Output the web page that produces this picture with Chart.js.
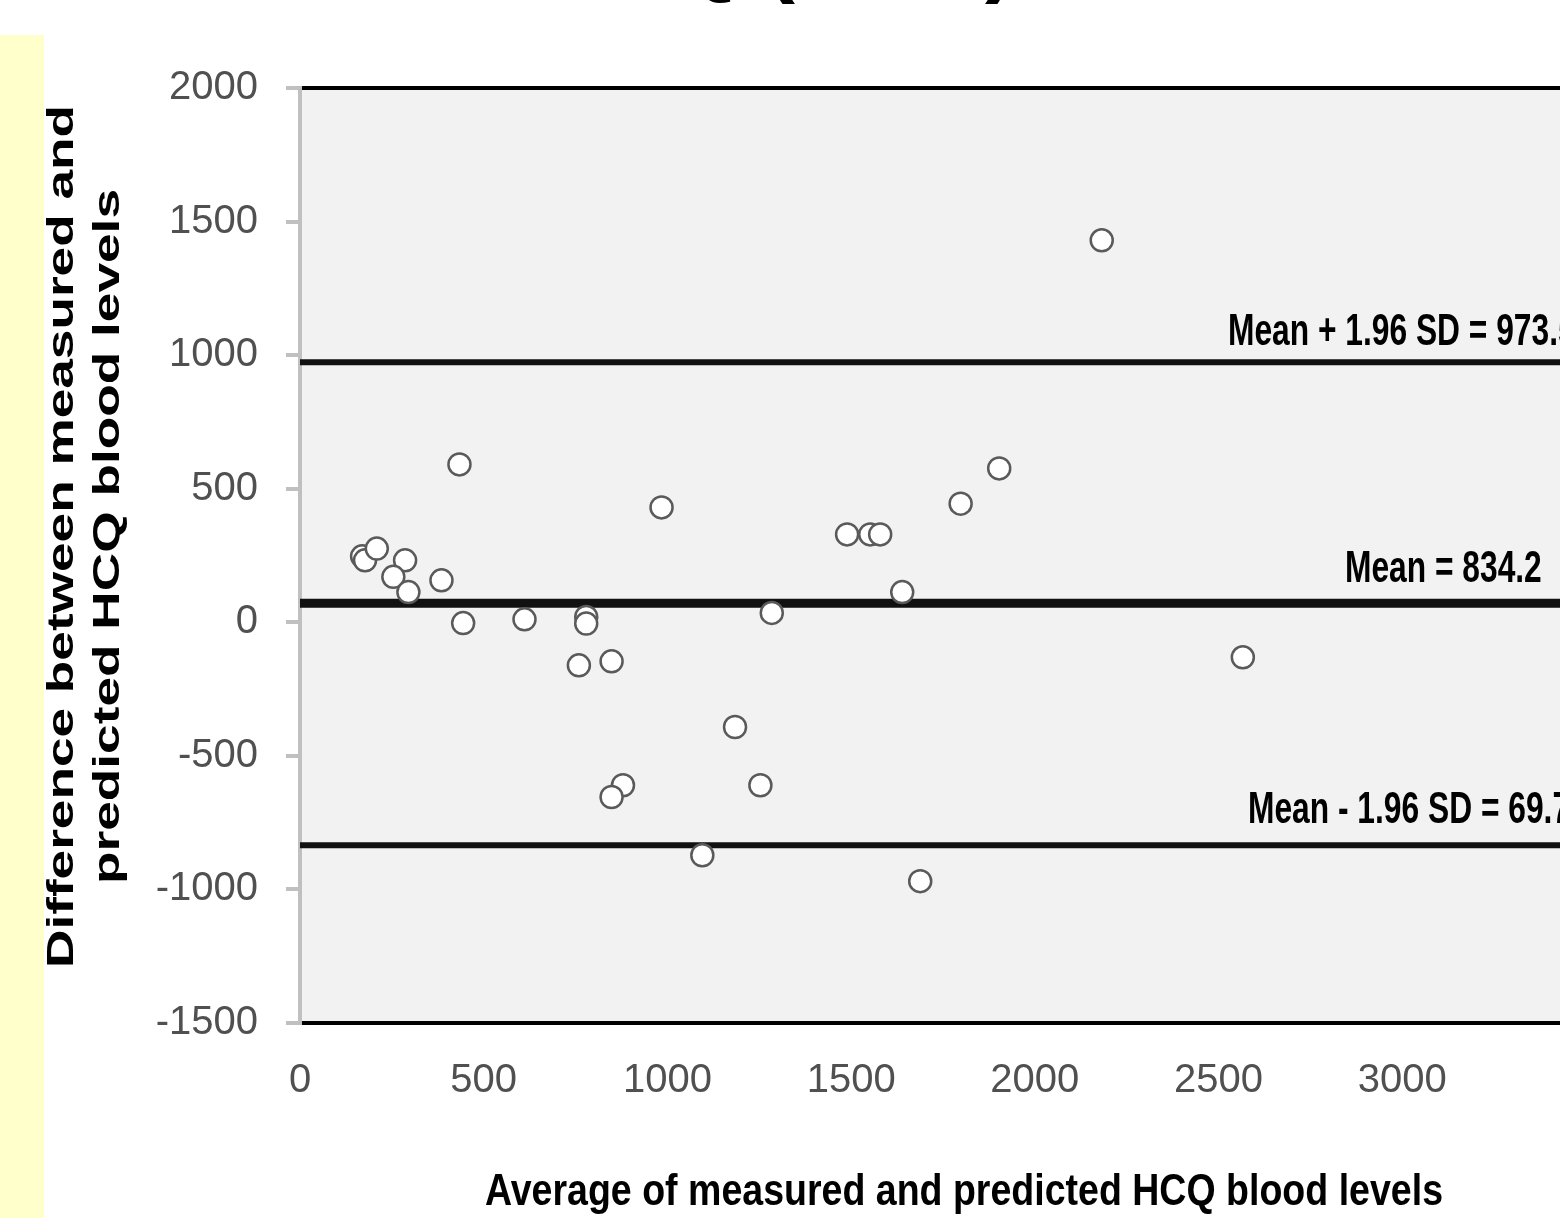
<!DOCTYPE html>
<html>
<head>
<meta charset="utf-8">
<script src="https://cdn.jsdelivr.net/npm/chart.js@4/dist/chart.umd.min.js"></script>
<style>
  html, body { margin: 0; padding: 0; background: #fff; overflow: hidden; }
  #wrap { position: absolute; left: 0; top: 0; width: 1700px; height: 1218px; }
</style>
</head>
<body>
<div id="wrap"><canvas id="myChart"></canvas></div>
<script>
// average of measured and predicted (x) / difference (y)
const avgLevels = [169, 177, 209, 286, 254, 295, 385, 434, 444, 611, 779, 779, 759, 848, 879, 848,
  984, 1095, 1184, 1253, 1284, 1489, 1552, 1579, 1639, 1688, 1798, 1903, 2182, 2566];
const diffLevels = [247, 232, 276, 232, 170, 113, 157, 591, -3, 11, 20, -5, -161, -146, -610, -654,
  430, -872, -392, -610, 35, 329, 329, 329, 113, -969, 444, 576, 1430, -131];

// mean and limits of agreement
const limitValues = [973, 71, -835];
const limitLabels = ['Mean + 1.96 SD = 973.5', 'Mean = 834.2', 'Mean - 1.96 SD = 69.7'];
const limitWidths = [6, 9, 6];

const xTitle = 'Average of measured and predicted HCQ blood levels';
const yTitle = ['Difference between measured and', 'predicted HCQ blood levels'];
const topTitle = 'HCQ (DBS)';

const points = avgLevels.map((x, i) => ({ x: x, y: diffLevels[i] }));

// draws text squeezed/stretched to a given width
function fitText(ctx, text, x, y, font, width) {
  ctx.font = font;
  const w = ctx.measureText(text).width;
  ctx.save();
  ctx.translate(x, y);
  ctx.scale(width / w, 1);
  ctx.fillText(text, 0, 0);
  ctx.restore();
}

const decorPlugin = {
  id: 'decor',
  beforeDraw(chart) {
    const ctx = chart.ctx;
    const a = chart.chartArea;
    ctx.save();
    ctx.fillStyle = '#ffffff';
    ctx.fillRect(0, 0, chart.width, chart.height);
    ctx.fillStyle = '#ffffcc';
    ctx.fillRect(0, 35, 44, chart.height - 35);
    ctx.fillStyle = '#f2f2f2';
    ctx.fillRect(a.left, a.top, a.right - a.left, a.bottom - a.top);
    ctx.restore();
  },
  afterDraw(chart) {
    const ctx = chart.ctx;
    const y = chart.scales.y;
    ctx.save();
    ctx.fillStyle = '#000';
    ctx.textAlign = 'left';
    ctx.textBaseline = 'alphabetic';

    // labels above the three horizontal lines
    const narrow = "bold 44px 'Liberation Sans Narrow', 'Liberation Sans', Arial, sans-serif";
    ctx.font = narrow;
    const sx = 330 / ctx.measureText('Mean + 1.96 SD = 973.').width;
    const labelX = [1228, 1345, 1248];
    const labelOff = [17, 21, 22];
    limitLabels.forEach((t, i) => {
      ctx.save();
      ctx.translate(labelX[i], y.getPixelForValue(limitValues[i]) - labelOff[i]);
      ctx.scale(sx, 1);
      ctx.fillText(t, 0, 0);
      ctx.restore();
    });

    // x axis title
    fitText(ctx, xTitle, 485, 1205, narrow, 958);

    // y axis title (rotated)
    const wide = "bold 37px 'Liberation Sans', Arial, sans-serif";
    ctx.save();
    ctx.translate(73, 537);
    ctx.rotate(-Math.PI / 2);
    fitText(ctx, yTitle[0], -431, 0, wide, 863);
    ctx.restore();
    ctx.save();
    ctx.translate(119, 537);
    ctx.rotate(-Math.PI / 2);
    fitText(ctx, yTitle[1], -347, 0, wide, 695);
    ctx.restore();

    // slide title, mostly cut off at the top
    ctx.font = "bold 90px 'Liberation Sans', Arial, sans-serif";
    const pre = ctx.measureText('HCQ ').width;
    ctx.fillText(topTitle, 765 - pre, -15);
    ctx.restore();
  }
};

const ctx = document.getElementById('myChart').getContext('2d');

new Chart(ctx, {
  data: {
    datasets: [
      {
        type: 'scatter',
        data: points,
        pointRadius: 11,
        pointBorderWidth: 2.5,
        pointBorderColor: '#5a5a5a',
        pointBackgroundColor: '#ffffff',
        order: 0
      },
      ...limitValues.map((v, i) => ({
        type: 'line',
        data: [{ x: 0, y: v }, { x: 3500, y: v }],
        borderColor: '#111111',
        borderWidth: limitWidths[i],
        pointRadius: 0,
        order: 1
      }))
    ]
  },
  options: {
    responsive: true,
    maintainAspectRatio: false,
    animation: false,
    events: [],
    layout: { padding: { left: 0, top: 88, right: 114, bottom: 0 } },
    plugins: {
      legend: { display: false },
      tooltip: { enabled: false },
      title: { display: false }
    },
    scales: {
      x: {
        type: 'linear',
        min: 0,
        max: 3500,
        afterFit: (scale) => { scale.height = 195; },
        grid: { display: false, drawTicks: false },
        border: { display: false },
        ticks: {
          stepSize: 500,
          padding: 34,
          maxRotation: 0,
          color: '#505050',
          callback: (v) => (v > 3000 ? '' : String(v)),
          font: { family: "'Liberation Sans', Arial, sans-serif", size: 40 }
        }
      },
      y: {
        type: 'linear',
        min: -1500,
        max: 2000,
        afterFit: (scale) => { scale.width = 300; },
        grid: {
          color: (c) => (c.tick && (c.tick.value === 2000 || c.tick.value === -1500)) ? '#000000' : 'rgba(0,0,0,0)',
          tickColor: '#c0c0c0',
          lineWidth: 4,
          tickLength: 14
        },
        border: { color: '#c0c0c0', width: 4 },
        ticks: {
          stepSize: 500,
          padding: 28,
          color: '#505050',
          callback: (v) => String(v),
          font: { family: "'Liberation Sans', Arial, sans-serif", size: 40 }
        }
      }
    }
  },
  plugins: [decorPlugin]
});
</script>
</body>
</html>
